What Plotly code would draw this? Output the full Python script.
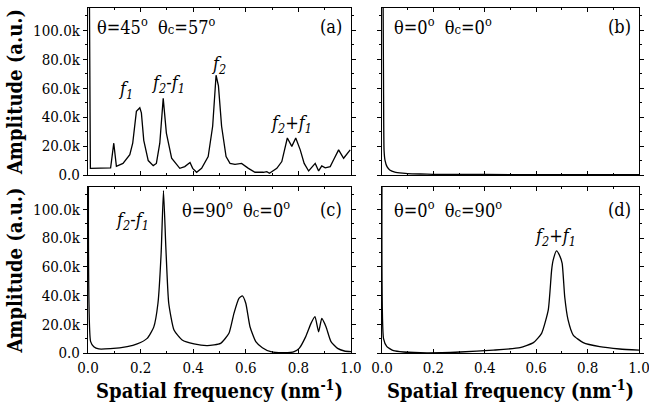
import plotly.graph_objects as go

# ---- spectra (spatial frequency in nm^-1, amplitude in a.u.) ----
freq_a = [0.003, 0.009, 0.086, 0.098, 0.108, 0.133, 0.159, 0.170, 0.184, 0.197, 0.203, 0.212,
          0.229, 0.248, 0.260, 0.273, 0.286, 0.298, 0.318, 0.349, 0.368, 0.388, 0.398, 0.413,
          0.432, 0.457, 0.474, 0.487, 0.496, 0.508, 0.525, 0.540, 0.559, 0.584, 0.610, 0.635,
          0.667, 0.680, 0.690, 0.718, 0.737, 0.758, 0.775, 0.790, 0.807, 0.822, 0.839, 0.864,
          0.877, 0.889, 0.902, 0.921, 0.934, 0.953, 0.972, 0.997]
amp_a = [200000, 4600, 5000, 22000, 6000, 8000, 14000, 22000, 44000, 46500, 43000, 24000,
         10000, 6500, 8000, 22000, 53000, 29000, 11600, 4600, 5800, 8600, 4600, 1900,
         4600, 12800, 33700, 69000, 61600, 33700, 12800, 8000, 7400, 8000, 4600, 1900,
         1900, 2300, 1200, 4600, 9300, 25600, 19800, 25600, 17400, 8000, 2800, 8000,
         2800, 6300, 5000, 5800, 10500, 17400, 11600, 17400]

freq_b = [0.002, 0.006, 0.008, 0.012, 0.020, 0.030, 0.050, 0.080, 0.100, 0.150, 0.200, 0.300,
          0.500, 0.700, 1.000]
amp_b = [200000, 60000, 17000, 10000, 5600, 3500, 2000, 1300, 1000, 700, 500, 400,
         300, 300, 300]

freq_c = [0.003, 0.010, 0.022, 0.041, 0.085, 0.149, 0.187, 0.225, 0.250, 0.266, 0.278, 0.287,
          0.296, 0.307, 0.327, 0.358, 0.403, 0.454, 0.504, 0.536, 0.555, 0.574, 0.587, 0.600,
          0.616, 0.638, 0.663, 0.695, 0.746, 0.784, 0.803, 0.828, 0.848, 0.863, 0.877, 0.889,
          0.905, 0.924, 0.949, 0.975, 1.000]
amp_c = [200000, 7900, 4400, 2800, 3000, 4400, 6300, 10200, 18000, 34600, 69000, 113000,
         73600, 34600, 16000, 9000, 6300, 5100, 6700, 13700, 27600, 38000, 39700, 34600,
         18300, 7900, 3700, 900, 200, 900, 3200, 11400, 20600, 25300, 14800, 24000,
         18300, 7900, 3200, 1400, 900]

freq_d = [0.002, 0.006, 0.019, 0.045, 0.084, 0.175, 0.304, 0.433, 0.537, 0.589, 0.621, 0.647,
          0.660, 0.666, 0.679, 0.692, 0.701, 0.711, 0.724, 0.744, 0.783, 0.847, 0.925, 1.000]
amp_d = [200000, 10000, 4400, 1600, 700, 100, 700, 2000, 3700, 7200, 13700, 30000,
         57700, 64600, 71000, 67400, 62300, 39000, 23000, 12500, 7200, 4400, 2800, 2000]

# ---- axis ticks ----
y_tick_vals = [0, 20000, 40000, 60000, 80000, 100000]
y_tick_text = ["0.0", "20.0k", "40.0k", "60.0k", "80.0k", "100.0k"]
x_tick_vals = [0.0, 0.2, 0.4, 0.6, 0.8, 1.0]
x_tick_text = ["0.0", "0.2", "0.4", "0.6", "0.8", "1.0"]

Y_MAX = 115500
SERIF = "'DejaVu Serif Condensed', 'DejaVu Serif', serif"

# panel domains (paper fractions)
col_dom = [[0.1356, 0.5408], [0.5886, 0.9846]]
row_dom = [[0.5721, 0.9804], [0.1369, 0.5428]]

fig = go.Figure()

panels = [
    (freq_a, amp_a, 0, 0, "linear"),
    (freq_b, amp_b, 1, 0, "spline"),
    (freq_c, amp_c, 0, 1, "spline"),
    (freq_d, amp_d, 1, 1, "spline"),
]

for i, (fx, fy, col, row, shape) in enumerate(panels, start=1):
    sfx = "" if i == 1 else str(i)
    line = dict(color="black", width=1.3, shape=shape)
    if shape == "spline":
        line["smoothing"] = 0.5
    fig.add_trace(go.Scatter(
        x=fx, y=fy, mode="lines", line=line,
        xaxis="x" + sfx, yaxis="y" + sfx, showlegend=False, hoverinfo="skip",
    ))
    xa = dict(
        domain=col_dom[col], anchor="y" + sfx, range=[0, 1], automargin=False,
        showline=True, linecolor="black", linewidth=1.2, mirror="ticks",
        ticks="inside", ticklen=4, tickwidth=1, tickcolor="black",
        tickmode="array", tickvals=x_tick_vals, ticktext=x_tick_text,
        showticklabels=(row == 1), ticklabelstandoff=1, ticklabeloverflow="allow",
        tickfont=dict(family=SERIF, size=15, color="black"),
        minor=dict(ticks="inside", ticklen=2, dtick=0.1, tickcolor="black", showgrid=False),
        showgrid=False, zeroline=False,
    )
    ya = dict(
        domain=row_dom[row], anchor="x" + sfx, range=[0, Y_MAX], automargin=False,
        showline=True, linecolor="black", linewidth=1.2, mirror="ticks",
        ticks="outside", ticklen=4, tickwidth=1, tickcolor="black",
        tickmode="array", tickvals=y_tick_vals, ticktext=y_tick_text,
        showticklabels=(col == 0), ticklabeloverflow="allow",
        tickfont=dict(family=SERIF, size=15, color="black"),
        minor=dict(ticks="outside", ticklen=2, dtick=10000, tickcolor="black", showgrid=False),
        showgrid=False, zeroline=False,
    )
    if row == 1:
        xa["title"] = dict(text="<b>Spatial frequency (nm<sup>-1</sup>)</b>",
                           font=dict(family=SERIF, size=20, color="black"), standoff=5)
    if col == 0:
        ya["title"] = dict(text="<b>Amplitude (a.u.)</b>",
                           font=dict(family=SERIF, size=20, color="black"), standoff=5)
    fig.layout["xaxis" + sfx] = xa
    fig.layout["yaxis" + sfx] = ya

# ---- text labels ----
TXT = dict(family=SERIF, size=18, color="black")
SMALL_C = "<span style='font-size:13px'>c</span>"
DEG = "<sup>o</sup>"
notes = [
    # (xref, yref, x, y, text, anchor)
    ("x", "y", 0.027, 103000, "θ=45" + DEG + "  θ" + SMALL_C + "=57" + DEG, "left"),
    ("x", "y", 0.975, 103000, "(a)", "right"),
    ("x2", "y2", 0.04, 103000, "θ=0" + DEG + "  θ" + SMALL_C + "=0" + DEG, "left"),
    ("x2", "y2", 0.975, 103000, "(b)", "right"),
    ("x3", "y3", 0.35, 100000, "θ=90" + DEG + "  θ" + SMALL_C + "=0" + DEG, "left"),
    ("x3", "y3", 0.975, 100000, "(c)", "right"),
    ("x4", "y4", 0.04, 100000, "θ=0" + DEG + "  θ" + SMALL_C + "=90" + DEG, "left"),
    ("x4", "y4", 0.975, 100000, "(d)", "right"),
    ("x", "y", 0.145, 59000, "<i>f</i><sub><i>1</i></sub>", "center"),
    ("x", "y", 0.305, 63000, "<i>f</i><sub><i>2</i></sub>-<i>f</i><sub><i>1</i></sub>", "center"),
    ("x", "y", 0.50, 76000, "<i>f</i><sub><i>2</i></sub>", "center"),
    ("x", "y", 0.775, 35000, "<i>f</i><sub><i>2</i></sub>+<i>f</i><sub><i>1</i></sub>", "center"),
    ("x3", "y3", 0.17, 92000, "<i>f</i><sub><i>2</i></sub>-<i>f</i><sub><i>1</i></sub>", "center"),
    ("x4", "y4", 0.675, 81000, "<i>f</i><sub><i>2</i></sub>+<i>f</i><sub><i>1</i></sub>", "center"),
]
for xr, yr, x, y, text, anc in notes:
    fig.add_annotation(xref=xr, yref=yr, x=x, y=y, text=text, showarrow=False,
                       xanchor=anc, yanchor="middle", font=TXT)

fig.update_layout(
    width=649, height=409,
    margin=dict(l=0, r=0, t=0, b=0),
    paper_bgcolor="white", plot_bgcolor="white",
    font=dict(family=SERIF, color="black"),
)

fig.write_html("out.html")
